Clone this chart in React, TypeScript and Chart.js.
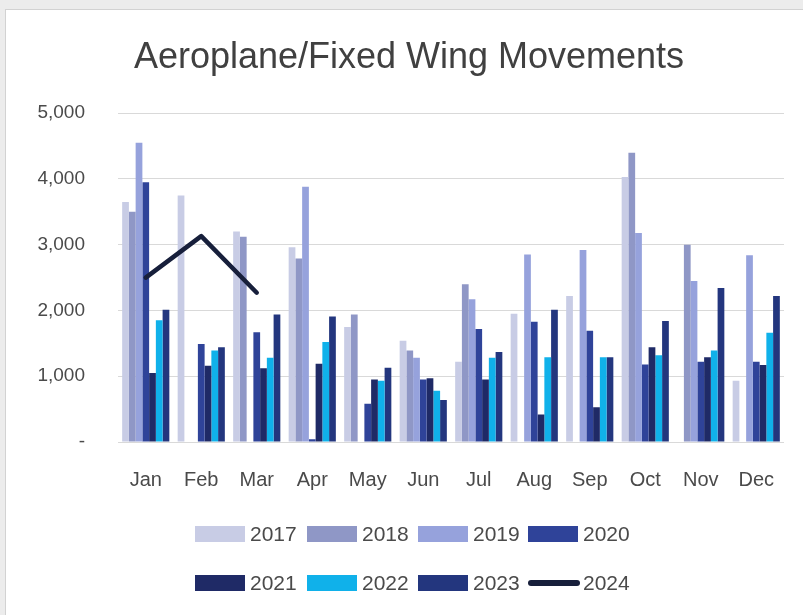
import React, { useEffect, useRef } from "react";
import { Chart, registerables } from "chart.js";

Chart.register(...registerables);

const FONT = "'Liberation Sans', Arial, Helvetica, sans-serif";
const TEXT = "#4a4a4a";

const months = ["Jan", "Feb", "Mar", "Apr", "May", "Jun", "Jul", "Aug", "Sep", "Oct", "Nov", "Dec"];
const years = ["2017", "2018", "2019", "2020", "2021", "2022", "2023", "2024"];

const v2017 = [3650, 3750, 3200, 2960, 1750, 1540, 1220, 1950, 2220, 4030, null, 930];
const v2018 = [3500, null, 3120, 2790, 1940, 1390, 2400, null, null, 4400, 3000, null];
const v2019 = [4550, null, null, 3880, null, 1280, 2170, 2850, 2920, 3180, 2450, 2840];
const v2020 = [3950, 1490, 1670, 40, 580, 950, 1720, 1830, 1690, 1180, 1220, 1220];
const v2021 = [1050, 1160, 1120, 1190, 950, 970, 950, 420, 530, 1440, 1290, 1170];
const v2022 = [1850, 1390, 1280, 1520, 930, 780, 1280, 1290, 1290, 1320, 1390, 1660];
const v2023 = [2010, 1440, 1940, 1910, 1130, 640, 1370, 2010, 1290, 1840, 2340, 2220];
const v2024 = [2500, 3130, 2270, null, null, null, null, null, null, null, null, null];

const yTicks = [0, 1000, 2000, 3000, 4000, 5000];

const barColors = ["#c8cce5", "#8f97c6", "#96a2dc", "#2f4399", "#1f2a66", "#10b1ea", "#23367e"];
const lineColor = "#171f3b";

export default function App() {
  const ref = useRef<HTMLCanvasElement>(null);

  useEffect(() => {
    const canvas = ref.current;
    if (!canvas) return;
    const barData = [v2017, v2018, v2019, v2020, v2021, v2022, v2023];
    const barSets: any[] = barData.map((d, i) => ({
      type: "bar",
      label: years[i],
      data: d,
      backgroundColor: barColors[i],
      borderWidth: 0,
      order: 2,
      categoryPercentage: 0.85,
      barPercentage: 1.0,
    }));
    const lineSet: any = {
      type: "line",
      label: years[7],
      data: v2024,
      borderColor: lineColor,
      backgroundColor: lineColor,
      borderWidth: 4.5,
      pointRadius: 0,
      pointHoverRadius: 0,
      fill: false,
      tension: 0,
      order: 1,
      borderCapStyle: "round",
      borderJoinStyle: "round",
    };
    const chart = new Chart(canvas, {
      type: "bar",
      data: { labels: months, datasets: [...barSets, lineSet] },
      options: {
        responsive: false,
        animation: false,
        devicePixelRatio: 1,
        layout: { padding: { left: 34, right: 19, top: 0, bottom: 97 } },
        plugins: {
          legend: { display: false },
          tooltip: { enabled: false },
          title: {
            display: true,
            text: "Aeroplane/Fixed Wing Movements",
            color: "#404040",
            font: { family: FONT, size: 36, weight: "normal" },
            padding: { top: 36, bottom: 34 },
          },
        },
        scales: {
          x: {
            offset: true,
            grid: { display: false, drawTicks: false },
            border: { display: false },
            ticks: { color: TEXT, font: { family: FONT, size: 20 }, padding: 26 },
          },
          y: {
            min: 0,
            max: 5000,
            afterBuildTicks: (scale: any) => {
              scale.ticks = yTicks.map((v) => ({ value: v }));
            },
            afterFit: (scale: any) => {
              scale.width = 84;
            },
            grid: { color: "#d9d9d9", lineWidth: 1, drawTicks: false },
            border: { display: false },
            ticks: {
              color: TEXT,
              font: { family: FONT, size: 19 },
              padding: 33,
              callback: (v: any) => (Number(v) === 0 ? "-" : Number(v).toLocaleString("en-US")),
            },
          },
        },
      },
    });
    return () => chart.destroy();
  }, []);

  const legendCols = [195, 307, 418, 528];
  const legendRows = [534, 583];

  return (
    <div style={{ position: "fixed", left: 0, top: 0, width: 803, height: 615, background: "#ececec", overflow: "hidden" }}>
      <div
        style={{
          position: "absolute",
          left: 5,
          top: 9,
          width: 820,
          height: 630,
          background: "#ffffff",
          borderLeft: "1px solid #d2d2d2",
          borderTop: "1px solid #d2d2d2",
        }}
      />
      <canvas ref={ref} width={803} height={615} style={{ position: "absolute", left: 0, top: 0, width: 803, height: 615 }} />
      {years.map((y, i) => {
        const col = i % 4;
        const row = Math.floor(i / 4);
        const left = legendCols[col];
        const cy = legendRows[row];
        const isLine = i === 7;
        return (
          <div key={y} style={{ position: "absolute", left, top: cy - 12, height: 24, display: "flex", alignItems: "center" }}>
            {isLine ? (
              <div style={{ width: 52, height: 6, borderRadius: 3, background: lineColor, marginRight: 3 }} />
            ) : (
              <div style={{ width: 50, height: 16, background: barColors[i], marginRight: 5 }} />
            )}
            <span style={{ fontFamily: FONT, fontSize: 21, color: TEXT, lineHeight: "24px" }}>{y}</span>
          </div>
        );
      })}
    </div>
  );
}
